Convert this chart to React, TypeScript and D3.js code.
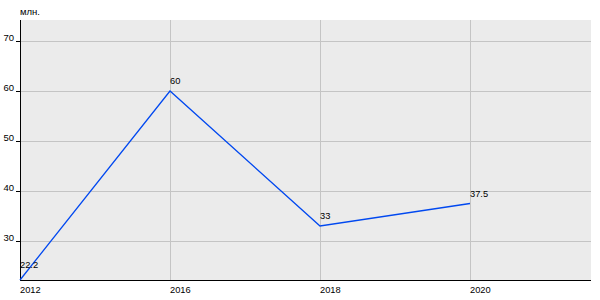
import React from "react";
import * as d3 from "d3";

const years = [2012, 2016, 2018, 2020];
const values = [22.2, 60, 33, 37.5];
const valueLabels = ["22.2", "60", "33", "37.5"];
const yTicks = [30, 40, 50, 60, 70];
const unitLabel = "млн.";

const W = 600;
const H = 300;
const M = { left: 20, right: 9, top: 20, bottom: 20 };
const CAT_STEP = 150;

export default function App() {
  const plotW = W - M.right - M.left;
  const x = d3
    .scaleLinear()
    .domain([0, plotW / CAT_STEP])
    .range([M.left, W - M.right]);
  const y = d3.scaleLinear().domain([22.2, 74.2]).range([H - M.bottom, M.top]);
  const line = d3
    .line<number>()
    .x((_, i) => x(i))
    .y((d) => y(d));
  const font = "'Liberation Sans', Arial, sans-serif";
  const bottom = H - M.bottom;
  return (
    <svg
      width={W}
      height={H}
      style={{ position: "absolute", left: 0, top: 0, fontFamily: font }}
    >
      <rect width={W} height={H} fill="#ffffff" />
      <rect x={M.left} y={M.top} width={plotW} height={bottom - M.top} fill="#ebebeb" />
      {yTicks.map((t) => (
        <line
          key={"gy" + t}
          x1={M.left}
          x2={W - M.right}
          y1={Math.round(y(t)) + 0.5}
          y2={Math.round(y(t)) + 0.5}
          stroke="#c4c4c4"
          strokeWidth={1}
        />
      ))}
      {years.slice(1).map((t, i) => (
        <line
          key={"gx" + t}
          x1={Math.round(x(i + 1)) + 0.5}
          x2={Math.round(x(i + 1)) + 0.5}
          y1={M.top}
          y2={bottom}
          stroke="#c4c4c4"
          strokeWidth={1}
        />
      ))}
      <line x1={M.left + 0.5} x2={M.left + 0.5} y1={M.top} y2={bottom + 1} stroke="#000" />
      <line x1={M.left} x2={W - M.right} y1={bottom + 0.5} y2={bottom + 0.5} stroke="#000" />
      {yTicks.map((t) => (
        <g key={"ty" + t}>
          <line
            x1={M.left - 4}
            x2={M.left}
            y1={Math.round(y(t)) + 0.5}
            y2={Math.round(y(t)) + 0.5}
            stroke="#000"
          />
          <text x={M.left - 6} y={y(t) - 0.5} fontSize={9.5} textAnchor="end" fill="#000">
            {t}
          </text>
        </g>
      ))}
      {years.map((t, i) => (
        <text key={"tx" + t} x={x(i)} y={bottom + 12.5} fontSize={9.3} fill="#000">
          {t}
        </text>
      ))}
      <text x={M.left} y={15} fontSize={9.5} fill="#000">
        {unitLabel}
      </text>
      <path d={line(values) || ""} fill="none" stroke="#0048f0" strokeWidth={1.3} />
      {values.map((v, i) => (
        <text
          key={"l" + i}
          x={x(i)}
          y={Math.min(y(v) - 7, bottom - 12)}
          fontSize={9.3}
          fill="#000"
        >
          {valueLabels[i]}
        </text>
      ))}
    </svg>
  );
}
